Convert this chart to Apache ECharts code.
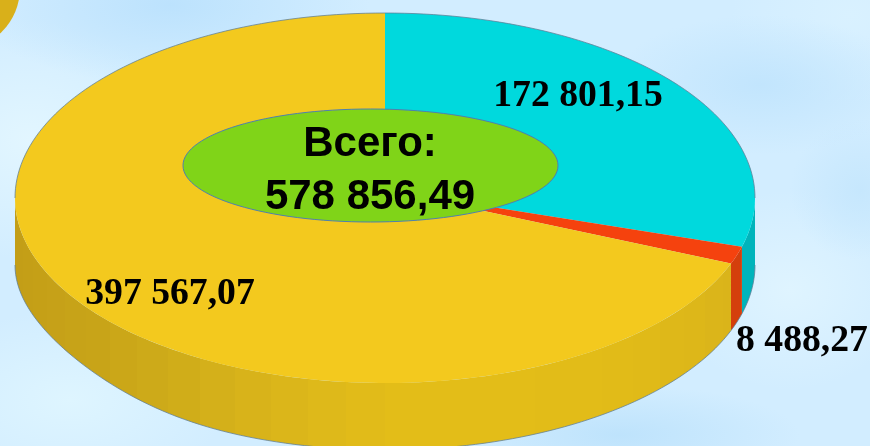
<!DOCTYPE html>
<html>
<head>
<meta charset="utf-8">
<style>
    html, body { margin: 0; padding: 0; width: 870px; height: 446px; overflow: hidden; }
    body {
        background-color: #d2edff;
        background-image:
            radial-gradient(ellipse 200px 80px at 170px 5px, #bce2fd, rgba(188,226,253,0)),
            radial-gradient(ellipse 150px 120px at 30px 140px, #e2f6ff, rgba(226,246,255,0)),
            radial-gradient(ellipse 150px 70px at 760px 85px, #c2e5fd, rgba(194,229,253,0)),
            radial-gradient(ellipse 120px 90px at 850px 15px, #d9f1ff, rgba(217,241,255,0)),
            radial-gradient(ellipse 70px 70px at 860px 190px, #c6e7fd, rgba(198,231,253,0)),
            radial-gradient(ellipse 120px 100px at 790px 290px, #dff4ff, rgba(223,244,255,0)),
            radial-gradient(ellipse 180px 50px at 620px 435px, #bee3fc, rgba(190,227,252,0)),
            radial-gradient(ellipse 160px 90px at 70px 400px, #def5ff, rgba(222,245,255,0));
    }
    #chart { width: 870px; height: 446px; }
</style>
<script src="https://cdn.jsdelivr.net/npm/echarts@6/dist/echarts.min.js"></script>
</head>
<body>
<div id="chart"></div>
<script>
    'use strict';

    // values, clockwise from 12 o'clock
    const sliceValues = [172801.15, 8488.27, 397567.07];
    const sliceLabels = ['172 801,15', '8 488,27', '397 567,07'];
    const totalTitle = 'Всего:';
    const totalLabel = '578 856,49';

    const topColors = ['#00d9dd', '#f5420e', '#f3c91e'];
    const wallColors = ['#00b4bb', '#d43f0c', null];
    const yellowShades = ['#c39e17', '#c8a418', '#cfac19', '#d8b31a', '#dfba1a', '#e3bd18', '#e3bd18', '#e2bc18', '#e0ba18', '#dab41a'];
    const labelCenters = [[578, 96], [802, 341], [170, 294]];

    // disc geometry (the apex sits above the ellipse centre because of the perspective)
    const cx = 385, cy = 198, rx = 370, ry = 185, depth = 67, apexShift = 8;

    const total = sliceValues.reduce((a, b) => a + b, 0);

    // running angles in degrees
    let running = 0;
    const sliceData = sliceValues.map(v => {
        const start = running;
        running += v / total * 360;
        return [v, start, running];
    });

    const rad = d => d * Math.PI / 180;
    const ay = -apexShift / ry;

    // angle around the apex -> angle on the rim ellipse
    function rimAngle(deg) {
        if (Math.abs(deg - 360) < 1e-6) return 360;
        const dx = Math.sin(rad(deg)), dy = -Math.cos(rad(deg));
        const b = ay * dy;
        const s = -b + Math.sqrt(b * b - (ay * ay - 1));
        let phi = Math.atan2(dx, -(ay + s * dy)) * 180 / Math.PI;
        if (phi < 0) phi += 360;
        return phi;
    }

    const rimPoint = (phi, drop) => [
        cx + rx * Math.sin(rad(phi)),
        cy - ry * Math.cos(rad(phi)) + (drop || 0)
    ];

    // the lower rim is pulled in a little on the front left
    function lowerPoint(phi) {
        const p = rimPoint(phi, depth);
        if (phi > 200 && phi < 270) {
            p[0] += 10 * Math.pow(Math.sin(rad((phi - 200) / 70 * 180)), 2);
        }
        return p;
    }

    function arcPoints(from, to, pointAt) {
        const pts = [];
        const steps = Math.max(2, Math.ceil((to - from) / 1.5));
        for (let i = 0; i <= steps; i++) {
            pts.push(pointAt(from + (to - from) * i / steps));
        }
        return pts;
    }

    const edgeStroke = 'rgba(95,125,150,0.75)';

    // yellow wall is made of flat facets, so the shading goes in hard steps
    function facetGradient(from, to) {
        const x0 = rimPoint(to)[0], x1 = rimPoint(from)[0];
        const stops = [];
        let prev = 0;
        for (let phi = to - 6; phi > from - 6; phi -= 6) {
            const next = Math.min(1, (rimPoint(Math.max(phi, from))[0] - x0) / (x1 - x0));
            const color = echarts.color.lerp((prev + next) / 2, yellowShades);
            stops.push({offset: prev, color: color}, {offset: next, color: color});
            prev = next;
        }
        return new echarts.graphic.LinearGradient(0, 0, 1, 0, stops);
    }

    function renderWall(params, api) {
        const i = params.dataIndex;
        // only the part of the rim facing the viewer has a wall
        const from = Math.max(rimAngle(api.value(1)), 90);
        const to = Math.min(rimAngle(api.value(2)), 270);
        if (to <= from) return null;
        const top = arcPoints(from, to, phi => rimPoint(phi));
        const bottom = arcPoints(from, to, lowerPoint);
        return {
            type: 'group',
            children: [{
                type: 'polygon',
                shape: {points: top.concat(bottom.slice().reverse())},
                style: {fill: wallColors[i] || facetGradient(from, to)}
            }, {
                type: 'polyline',
                shape: {points: bottom},
                style: {fill: null, stroke: edgeStroke, lineWidth: 1}
            }]
        };
    }

    function renderTop(params, api) {
        const i = params.dataIndex;
        const from = rimAngle(api.value(1)), to = rimAngle(api.value(2));
        const arc = arcPoints(from, to, phi => rimPoint(phi));
        const children = [{
            type: 'polygon',
            shape: {points: [[cx, cy - apexShift]].concat(arc)},
            style: {fill: topColors[i]}
        }];
        // the thin outline only runs along the far side of the rim
        const ranges = [[from, Math.min(to, 90)], [Math.max(from, 270), to]];
        ranges.forEach(r => {
            if (r[1] <= r[0]) return;
            children.push({
                type: 'polyline',
                shape: {points: arcPoints(r[0], r[1], phi => rimPoint(phi))},
                style: {fill: null, stroke: edgeStroke, lineWidth: 1}
            });
        });
        children.push({
            type: 'text',
            x: labelCenters[i][0],
            y: labelCenters[i][1],
            z2: 10,
            style: {
                text: sliceLabels[i],
                fill: '#000',
                font: 'bold 37.7px "Liberation Serif"',
                align: 'center',
                verticalAlign: 'middle'
            }
        });
        return {type: 'group', children: children};
    }

    const chart = echarts.init(document.getElementById('chart'), null, {renderer: 'canvas'});

    chart.setOption({
        animation: false,
        backgroundColor: 'transparent',
        graphic: [{
            // corner of the neighbouring decoration
            type: 'circle',
            z: 0,
            silent: true,
            shape: {cx: -42, cy: -12, r: 62},
            style: {fill: '#d9b01a'}
        }, {
            type: 'ellipse',
            z: 100,
            silent: true,
            shape: {cx: 370.5, cy: 165.5, rx: 187.5, ry: 56.5},
            style: {fill: '#80d418', stroke: '#4f7fb0', lineWidth: 1}
        }, {
            type: 'text',
            z: 101,
            silent: true,
            x: 370,
            y: 144,
            style: {
                text: totalTitle, fill: '#000',
                font: 'bold 42px "Liberation Sans"',
                align: 'center', verticalAlign: 'middle'
            }
        }, {
            type: 'text',
            z: 101,
            silent: true,
            x: 370,
            y: 197,
            style: {
                text: totalLabel, fill: '#000',
                font: 'bold 42px "Liberation Sans"',
                align: 'center', verticalAlign: 'middle'
            }
        }],
        series: [{
            type: 'custom',
            coordinateSystem: 'none',
            z: 2,
            silent: true,
            renderItem: renderWall,
            data: sliceData
        }, {
            type: 'custom',
            coordinateSystem: 'none',
            z: 3,
            silent: true,
            renderItem: renderTop,
            data: sliceData
        }]
    });
</script>
</body>
</html>
